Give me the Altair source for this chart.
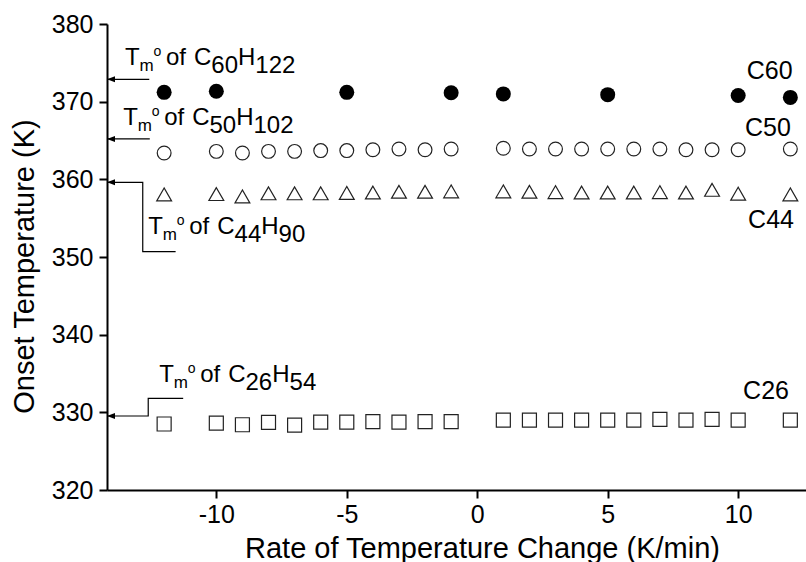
import altair as alt
import pandas as pd

# ---- measured onset temperatures (K) vs. heating/cooling rate (K/min) ----
rates = [-12, -10, -9, -8, -7, -6, -5, -4, -3, -2, -1, 1, 2, 3, 4, 5, 6, 7, 8, 9, 10, 12]
c26 = [328.5, 328.6, 328.4, 328.7, 328.35, 328.75, 328.75, 328.8, 328.75, 328.8, 328.8,
       329.0, 329.0, 329.0, 329.0, 329.0, 329.0, 329.1, 329.0, 329.1, 329.0, 329.0]
c44 = [358.05, 358.1, 357.8, 358.2, 358.2, 358.2, 358.25, 358.3, 358.4, 358.4, 358.45,
       358.45, 358.4, 358.35, 358.3, 358.3, 358.3, 358.35, 358.3, 358.65, 358.15, 358.05]
c50 = [363.4, 363.6, 363.4, 363.6, 363.6, 363.7, 363.7, 363.8, 363.9, 363.8, 363.9,
       364.0, 363.9, 363.9, 363.9, 363.9, 363.9, 363.9, 363.8, 363.8, 363.8, 363.9]
c60_rates = [-12, -10, -5, -1, 1, 5, 10, 12]
c60 = [371.2, 371.35, 371.2, 371.15, 371.0, 370.9, 370.8, 370.55]

# series names and where their labels sit (data units, left/baseline)
series_names = ["C60", "C50", "C44", "C26"]
series_label_x = [10.33, 10.26, 10.38, 10.19]
series_label_y = [372.92, 365.58, 353.74, 331.72]

# equilibrium melting points: chain subscripts, text anchor and leader path
tm_carbons = ["60", "50", "44", "26"]
tm_hydrogens = ["122", "102", "90", "54"]
tm_text_x = [-13.50, -13.57, -12.61, -12.19]
tm_text_y = [374.73, 367.0, 352.96, 333.95]
X_MIN, X_MAX = -14.19, 12.6
Y_MIN, Y_MAX = 320, 380
tm_leaders = [
    [(X_MIN, 372.88), (-12.57, 372.88)],
    [(X_MIN, 365.2), (-12.55, 365.2)],
    [(X_MIN, 359.62), (-12.82, 359.62), (-12.82, 350.68), (-11.56, 350.68)],
    [(X_MIN, 329.53), (-12.61, 329.53), (-12.61, 331.81), (-11.27, 331.81)],
]

# ---- geometry ----
W, H = 699, 466
PX_X = W / (X_MAX - X_MIN)
PX_Y = H / (Y_MAX - Y_MIN)
FONT = "Liberation Sans"
FS = 24
ARIAL = {"T": 611, "m": 833, "o": 556, "f": 278, " ": 278, "C": 722, "H": 722}
ARIAL.update({d: 556 for d in "0123456789"})


def adv(s, size):
    return sum(ARIAL[c] for c in s) * size / 1000.0


# build the rich-text pieces of "Tm° of CnHh" with sub/superscripts
rows = []
for n, h, x0, y0 in zip(tm_carbons, tm_hydrogens, tm_text_x, tm_text_y):
    pieces = [("T", 0, 0, FS), ("m", 14.5, 6, 17), ("o", 28.5, -9, 14), ("of", 41, 0, FS), ("C", 69, 0, FS)]
    cur = 69 + adv("C", FS)
    pieces.append((n, cur, 8, FS))
    cur += adv(n, FS)
    pieces.append(("H", cur, 0, FS))
    cur += adv("H", FS)
    pieces.append((h, cur, 8, FS))
    for txt, dx, dy, size in pieces:
        rows.append({"x": x0 + dx / PX_X, "y": y0 - dy / PX_Y, "t": txt, "s": size})
tm_text = pd.DataFrame(rows)

lead_rows = []
for g, path in enumerate(tm_leaders):
    for i, (px, py) in enumerate(path):
        lead_rows.append({"x": px, "y": py, "g": g, "i": i})
leaders = pd.DataFrame(lead_rows)
heads = pd.DataFrame({"x": [p[0][0] for p in tm_leaders], "y": [p[0][1] for p in tm_leaders]})

labels = pd.DataFrame({"x": series_label_x, "y": series_label_y, "t": series_names})

xs = alt.Scale(domain=[X_MIN, X_MAX], nice=False, zero=False)
ys = alt.Scale(domain=[Y_MIN, Y_MAX], nice=False, zero=False)

x_axis = alt.Axis(
    values=[-10, -5, 0, 5, 10], title="Rate of Temperature Change (K/min)", grid=False,
    domainColor="black", domainWidth=2, tickColor="black", tickWidth=2, tickSize=8,
    labelFont=FONT, labelFontSize=25, labelColor="black", labelPadding=4, labelFlush=False,
    labelExpr="'' + datum.value",
    titleFont=FONT, titleFontSize=29, titleFontWeight="normal", titleColor="black",
    titleX=375, titleY=67, titleAlign="center", titleBaseline="alphabetic",
)
y_axis = alt.Axis(
    values=[320, 330, 340, 350, 360, 370, 380], title="Onset Temperature (K)", grid=False,
    domainColor="black", domainWidth=2, tickColor="black", tickWidth=2, tickSize=8,
    labelFont=FONT, labelFontSize=25, labelColor="black", labelPadding=6,
    titleFont=FONT, titleFontSize=29, titleFontWeight="normal", titleColor="black",
    titleX=-74, titleY=242, titleAngle=270, titleAlign="center", titleBaseline="alphabetic",
)


def X():
    return alt.X("x:Q", scale=xs, axis=x_axis)


def Y():
    return alt.Y("y:Q", scale=ys, axis=y_axis)


def frame(xv, yv):
    return pd.DataFrame({"x": xv, "y": yv})


pt_c60 = alt.Chart(frame(c60_rates, c60)).mark_point(
    shape="circle", filled=True, color="black", size=225, opacity=1
).encode(x=X(), y=Y())
pt_c50 = alt.Chart(frame(rates, c50)).mark_point(
    shape="circle", filled=False, color="#222", strokeWidth=1.2, size=190, opacity=1
).encode(x=X(), y=Y())
pt_c44 = alt.Chart(frame(rates, c44)).mark_point(
    shape="triangle-up", filled=False, color="#222", strokeWidth=1.2, size=220, opacity=1
).encode(x=X(), y=Y())
pt_c26 = alt.Chart(frame(rates, c26)).mark_point(
    shape="square", filled=False, color="#222", strokeWidth=1.2, size=196, opacity=1
).encode(x=X(), y=Y())

lead = alt.Chart(leaders).mark_line(color="black", strokeWidth=1.2).encode(
    x=X(), y=Y(), detail="g:N", order="i:Q"
)
head = alt.Chart(heads).mark_point(
    shape="M0,0L2,-0.75L2,0.75Z", filled=True, color="black", size=64, opacity=1
).encode(x=X(), y=Y())

tm = alt.Chart(tm_text).mark_text(
    font=FONT, align="left", baseline="alphabetic", color="black"
).encode(x=X(), y=Y(), text="t:N", size=alt.Size("s:Q", scale=None))

names = alt.Chart(labels).mark_text(
    font=FONT, fontSize=25, align="left", baseline="alphabetic", color="black"
).encode(x=X(), y=Y(), text="t:N")

chart = alt.layer(pt_c60, pt_c50, pt_c44, pt_c26, lead, head, tm, names).properties(
    width=W, height=H,
    autosize=alt.AutoSizeParams(type="none"),
    padding={"left": 107, "top": 24, "right": 0, "bottom": 72},
    background="white",
).configure_view(stroke=None)

chart.save("out.html", embed_options={"renderer": "svg", "actions": False})
